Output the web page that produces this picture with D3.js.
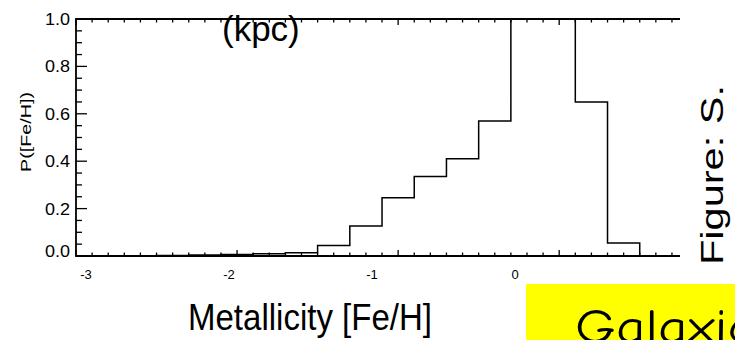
<!DOCTYPE html>
<html>
<head>
<meta charset="utf-8">
<script src="https://cdn.jsdelivr.net/npm/d3@7"></script>
<style>
  body { margin: 0; background: white; }
  svg { display: block; font-family: "Liberation Sans", Arial, sans-serif; }
</style>
</head>
<body>
<script>
var width = 735;
var height = 340;

// histogram bins (centres, bin width 0.2) and normalised counts
var binCentres = [-2.8, -2.6, -2.4, -2.2, -2.0, -1.8, -1.6, -1.4, -1.2, -1.0, -0.8, -0.6, -0.4, -0.2, 0.0, 0.2, 0.4, 0.6];
var binValues  = [0, 0.001, 0.002, 0.004, 0.006, 0.009, 0.014, 0.044, 0.127, 0.246, 0.335, 0.41, 0.57, 1.0, 1.08, 0.65, 0.055, 0];
var binWidth = 0.2;

var xMajor = [-3, -2, -1, 0];
var xLabels = ["-3", "-2", "-1", "0"];
var yMajor = [0, 0.2, 0.4, 0.6, 0.8, 1.0];
var yLabels = ["0.0", "0.2", "0.4", "0.6", "0.8", "1.0"];

var xMinor = d3.range(-30, 8).map(function(i){ return i / 10; });
var yMinor = d3.range(0, 21).map(function(i){ return i / 20; });

var svg = d3.select("body")
            .append("svg")
            .attr("width", width)
            .attr("height", height);

var xScale = d3.scaleLinear().domain([-3, 0.75]).range([76, 680]);
var yScale = d3.scaleLinear().domain([0, 1]).range([256, 19]);
// tick labels sit on a slightly narrower spacing than the ticks in the figure
var labelScale = d3.scaleLinear().domain([-3, 0]).range([86, 515]);

svg.append("clipPath")
   .attr("id", "plot-clip")
   .append("rect")
   .attr("x", xScale(-3))
   .attr("y", yScale(1) - 1)
   .attr("width", xScale(0.75) - xScale(-3))
   .attr("height", yScale(0) - yScale(1) + 2);

function isMajorX(d){ return Math.abs(d - Math.round(d)) < 1e-6; }
function isMajorY(d){ return Math.abs(d * 5 - Math.round(d * 5)) < 1e-6; }

var ticks = svg.append("g")
               .attr("stroke", "#000")
               .attr("stroke-width", 1.3);

// bottom ticks pointing up
ticks.selectAll(".xb")
     .data(xMinor).enter()
     .append("line")
     .attr("class", "xb")
     .attr("x1", (d) => xScale(d)).attr("x2", (d) => xScale(d))
     .attr("y1", yScale(0))
     .attr("y2", (d) => yScale(0) - (isMajorX(d) ? 6 : 3.5));

// top ticks pointing down
ticks.selectAll(".xt")
     .data(xMinor).enter()
     .append("line")
     .attr("class", "xt")
     .attr("x1", (d) => xScale(d)).attr("x2", (d) => xScale(d))
     .attr("y1", yScale(1))
     .attr("y2", (d) => yScale(1) + (isMajorX(d) ? 6 : 3.5));

// left ticks pointing right
ticks.selectAll(".yl")
     .data(yMinor).enter()
     .append("line")
     .attr("class", "yl")
     .attr("x1", xScale(-3))
     .attr("x2", (d) => xScale(-3) + (isMajorY(d) ? 11 : 6))
     .attr("y1", (d) => yScale(d)).attr("y2", (d) => yScale(d));

// frame lines: left, bottom, top (no right axis in the figure)
svg.append("path")
   .attr("d", d3.line()([[xScale(0.75), yScale(1)], [xScale(-3), yScale(1)], [xScale(-3), yScale(0)], [xScale(0.75), yScale(0)]]))
   .attr("fill", "none")
   .attr("stroke", "#000")
   .attr("stroke-width", 1.8);

// step histogram
var pts = [[xScale(-3), yScale(0)]];
binCentres.forEach(function(c, i){
  var x0 = Math.max(c - binWidth / 2, -3);
  var x1 = Math.min(c + binWidth / 2, 0.75);
  pts.push([xScale(x0), yScale(binValues[i])]);
  pts.push([xScale(x1), yScale(binValues[i])]);
});
pts.push([xScale(0.75), yScale(0)]);

svg.append("path")
   .attr("d", d3.line()(pts))
   .attr("clip-path", "url(#plot-clip)")
   .attr("fill", "none")
   .attr("stroke", "#000")
   .attr("stroke-width", 1.5);

// x tick labels
svg.selectAll(".xlab")
   .data(xMajor).enter()
   .append("text")
   .attr("class", "xlab")
   .attr("x", (d) => labelScale(d))
   .attr("y", 279)
   .attr("text-anchor", "middle")
   .attr("font-size", 13)
   .text((d, i) => xLabels[i]);

// y tick labels
svg.selectAll(".ylab")
   .data(yMajor).enter()
   .append("text")
   .attr("class", "ylab")
   .attr("x", 45)
   .attr("y", (d) => yScale(d) + (d === 0 ? 1 : 6))
   .attr("font-size", 16)
   .attr("textLength", 25)
   .attr("lengthAdjust", "spacingAndGlyphs")
   .text((d, i) => yLabels[i]);

// y axis title
svg.append("text")
   .attr("transform", "translate(31,132) rotate(-90)")
   .attr("text-anchor", "middle")
   .attr("font-size", 15)
   .attr("textLength", 80)
   .attr("lengthAdjust", "spacingAndGlyphs")
   .text("P([Fe/H])");

// x axis title
svg.append("text")
   .attr("x", 188)
   .attr("y", 330)
   .attr("font-size", 36)
   .attr("textLength", 244)
   .attr("lengthAdjust", "spacingAndGlyphs")
   .text("Metallicity [Fe/H]");

// leftover caption
svg.append("text")
   .attr("x", 222)
   .attr("y", 41)
   .attr("font-size", 35)
   .text("(kpc)");

svg.append("text")
   .attr("transform", "translate(723,265) rotate(-90)")
   .attr("font-size", 31)
   .attr("textLength", 180)
   .attr("lengthAdjust", "spacingAndGlyphs")
   .text("Figure: S.");

// yellow banner
svg.append("rect")
   .attr("x", 526)
   .attr("y", 284)
   .attr("width", width - 526)
   .attr("height", height - 284)
   .attr("fill", "#ffff00");

svg.append("text")
   .attr("x", 575)
   .attr("y", 343)
   .attr("font-size", 48)
   .attr("font-family", "'Comic Sans MS', 'Comic Neue', 'DejaVu Sans', sans-serif")
   .attr("textLength", 180)
   .attr("lengthAdjust", "spacingAndGlyphs")
   .text("Galaxic");
</script>
</body>
</html>
